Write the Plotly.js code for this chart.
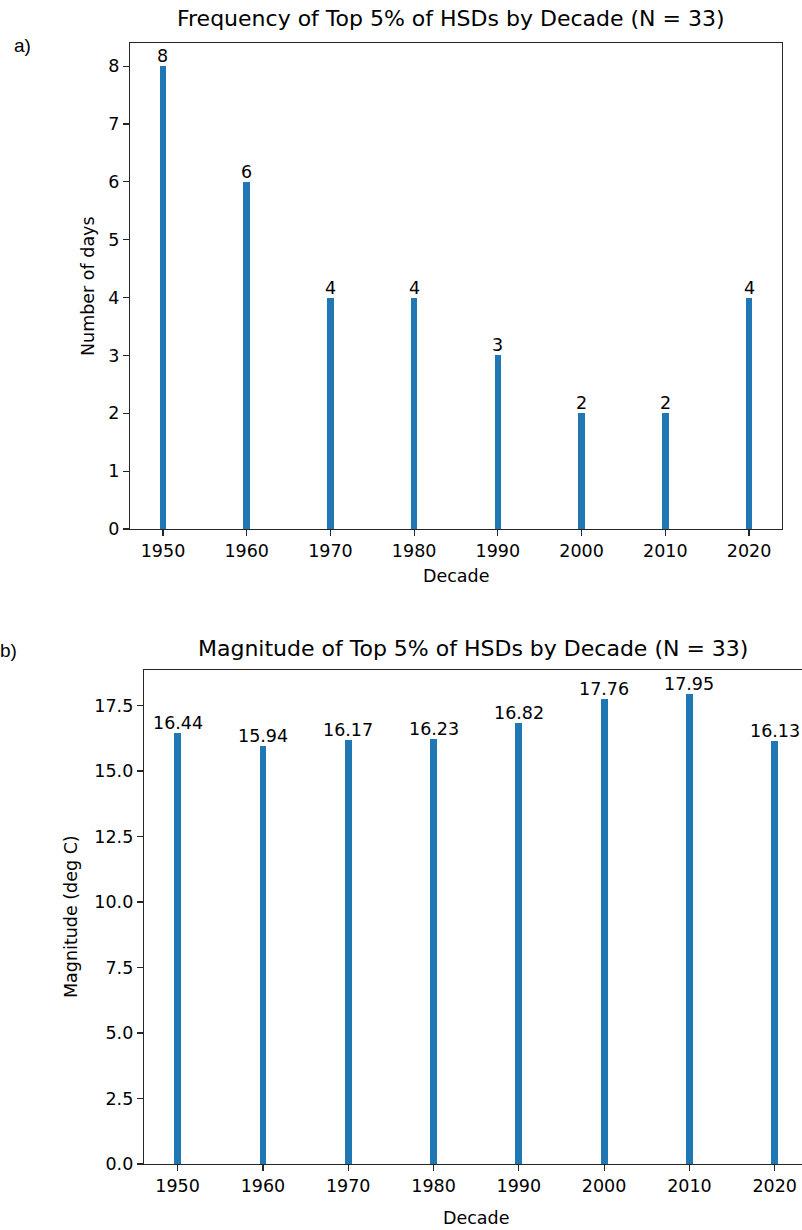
<!DOCTYPE html>
<html>
<head>
<meta charset="utf-8">
<script src="https://cdn.plot.ly/plotly-3.0.1.min.js"></script>
<style>html,body{margin:0;padding:0;background:#fff;}#chart{width:802px;height:1230px;}</style>
</head>
<body>
<div id="chart"></div>
<script>
const decades = [1950, 1960, 1970, 1980, 1990, 2000, 2010, 2020];
const tickLabels = ["1950", "1960", "1970", "1980", "1990", "2000", "2010", "2020"];
const frequency = [8, 6, 4, 4, 3, 2, 2, 4];
const magnitude = [16.44, 15.94, 16.17, 16.23, 16.82, 17.76, 17.95, 16.13];
const titleA = "Frequency of Top 5% of HSDs by Decade (N = 33)";
const titleB = "Magnitude of Top 5% of HSDs by Decade (N = 33)";

const W = 802, H = 1230;
const px = x => x / W;
const py = y => 1 - y / H;
const FONT = "DejaVu Sans, sans-serif";
const BLUE = "#1f77b4";
const AX = "#262626";
const FS = 17.5;
const TS = 22;

const traces = [
  {
    type: "bar", x: decades, y: frequency, width: 0.8,
    marker: {color: BLUE}, xaxis: "x", yaxis: "y", hoverinfo: "x+y"
  },
  {
    type: "bar", x: decades, y: magnitude, width: 0.8,
    marker: {color: BLUE}, xaxis: "x2", yaxis: "y2", hoverinfo: "x+y"
  }
];

const barLabel = (xr, yr, fmt) => (v, i) => ({
  text: fmt(v), x: decades[i], y: v, xref: xr, yref: yr,
  xanchor: "center", yanchor: "bottom", showarrow: false, borderpad: 0, yshift: -1,
  font: {family: FONT, size: FS, color: "#000"}
});

const axCommon = {
  showgrid: false, zeroline: false, showline: true, linecolor: AX, linewidth: 1.2,
  ticks: "outside", ticklen: 6, tickwidth: 1.2, tickcolor: AX,
  tickfont: {family: FONT, size: FS, color: "#000"}, fixedrange: true
};

const layout = {
  width: W, height: H,
  margin: {l: 0, r: 0, t: 0, b: 0},
  paper_bgcolor: "#fff", plot_bgcolor: "#fff",
  showlegend: false, bargap: 0,
  font: {family: FONT, color: "#000"},
  xaxis: Object.assign({}, axCommon, {
    domain: [px(130), px(782)], range: [1946.06, 2023.94],
    tickvals: decades, ticktext: tickLabels, mirror: true, anchor: "y"
  }),
  yaxis: Object.assign({}, axCommon, {
    domain: [py(529), py(43)], range: [0, 8.4],
    tickvals: [0, 1, 2, 3, 4, 5, 6, 7, 8], mirror: true, anchor: "x"
  }),
  xaxis2: Object.assign({}, axCommon, {
    domain: [px(144), 1], range: [1946.06, 2023.2],
    tickvals: decades, ticktext: tickLabels, mirror: true, anchor: "y2"
  }),
  yaxis2: Object.assign({}, axCommon, {
    domain: [py(1164), py(670)], range: [0, 18.85],
    tickvals: [0, 2.5, 5, 7.5, 10, 12.5, 15, 17.5], tickformat: ".1f", anchor: "x2"
  }),
  annotations: [
    {text: titleA, xref: "paper", yref: "paper", x: px(451), y: py(18), xanchor: "center", yanchor: "middle", showarrow: false, font: {family: FONT, size: TS, color: "#000"}},
    {text: titleB, xref: "paper", yref: "paper", x: px(473), y: py(648), xanchor: "center", yanchor: "middle", showarrow: false, font: {family: FONT, size: TS, color: "#000"}},
    {text: "Decade", xref: "paper", yref: "paper", x: px(456), y: py(576), xanchor: "center", yanchor: "middle", showarrow: false, font: {family: FONT, size: FS, color: "#000"}},
    {text: "Decade", xref: "paper", yref: "paper", x: px(476), y: py(1218), xanchor: "center", yanchor: "middle", showarrow: false, font: {family: FONT, size: FS, color: "#000"}},
    {text: "Number of days", xref: "paper", yref: "paper", x: px(88), y: py(286), xanchor: "center", yanchor: "middle", textangle: -90, showarrow: false, font: {family: FONT, size: FS, color: "#000"}},
    {text: "Magnitude (deg C)", xref: "paper", yref: "paper", x: px(71), y: py(917), xanchor: "center", yanchor: "middle", textangle: -90, showarrow: false, font: {family: FONT, size: FS, color: "#000"}},
    {text: "a)", xref: "paper", yref: "paper", x: px(12), y: py(45), xanchor: "left", yanchor: "middle", showarrow: false, font: {family: "Liberation Sans, Arial, sans-serif", size: 19, color: "#000"}},
    {text: "b)", xref: "paper", yref: "paper", x: px(-2), y: py(650), xanchor: "left", yanchor: "middle", showarrow: false, font: {family: "Liberation Sans, Arial, sans-serif", size: 19, color: "#000"}}
  ]
    .concat(frequency.map(barLabel("x", "y", v => String(v))))
    .concat(magnitude.map(barLabel("x2", "y2", v => v.toFixed(2))))
};

Plotly.newPlot("chart", traces, layout, {displayModeBar: false, staticPlot: true});
</script>
</body>
</html>
